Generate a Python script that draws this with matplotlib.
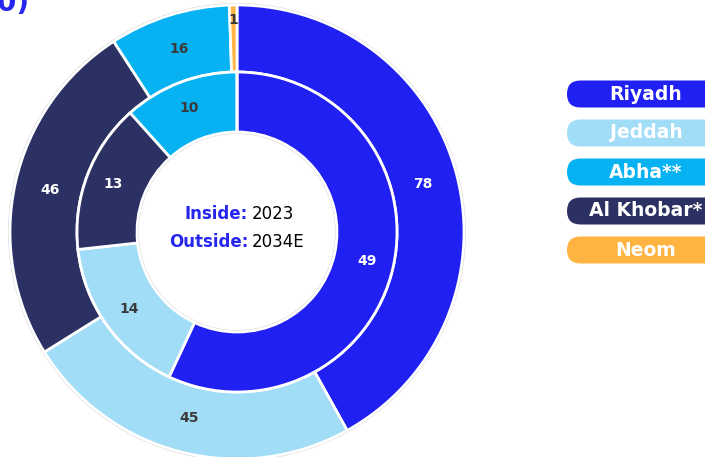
import numpy as np
import matplotlib.pyplot as plt
from matplotlib.patches import FancyBboxPatch, Circle

cities = ["Riyadh", "Jeddah", "Al Khobar*", "Abha**", "Neom"]
outside_2034 = [78, 45, 46, 16, 1]
inside_2023 = [49, 14, 13, 10, 0]
legend_order = ["Riyadh", "Jeddah", "Abha**", "Al Khobar*", "Neom"]

colors = {
    "Riyadh": "#2020F2",
    "Jeddah": "#A2DDF8",
    "Abha**": "#06B2F2",
    "Al Khobar*": "#2C3163",
    "Neom": "#FFB341",
}
dark_text = {"Riyadh": False, "Jeddah": True, "Abha**": True,
             "Al Khobar*": False, "Neom": True}

plt.rcParams["font.family"] = ["DejaVu Sans"]

fig = plt.figure(figsize=(7.05, 4.57), dpi=100)
ax = fig.add_axes([0, 0, 1, 1])

cx, cy = 237, 225
r_out, r_mid, r_hole = 227, 160, 100

# light halo round the rings
ax.add_patch(Circle((cx, cy), r_out + 1, facecolor="none", edgecolor="#d4d4d4", lw=1.2))
ax.add_patch(Circle((cx, cy), r_hole - 1, facecolor="none", edgecolor="#d4d4d4", lw=1.2))

fc = [colors[c] for c in cities]
outer, _ = ax.pie(outside_2034, radius=r_out, center=(cx, cy), startangle=90,
                  counterclock=False, colors=fc,
                  wedgeprops=dict(width=r_out - r_mid, edgecolor="white", linewidth=2))
inner, _ = ax.pie(inside_2023, radius=r_mid, center=(cx, cy), startangle=90,
                  counterclock=False, colors=fc,
                  wedgeprops=dict(width=r_mid - r_hole, edgecolor="white", linewidth=2))


def put_labels(wedges, values, radius):
    for w, v, c in zip(wedges, values, cities):
        if v == 0:
            continue
        th = np.deg2rad((w.theta1 + w.theta2) / 2)
        rr = radius + (20 if c == "Neom" else 0)
        ax.text(cx + rr * np.cos(th), cy + rr * np.sin(th), str(v),
                ha="center", va="center", fontsize=10, fontweight="bold",
                color="#3b3b3b" if dark_text[c] else "white")


put_labels(outer, outside_2034, 192)
put_labels(inner, inside_2023, 133)

# centre caption
blue = "#2626EE"
ax.text(248, 457 - 214, "Inside:", ha="right", va="center", fontsize=12,
        fontweight="bold", color=blue)
ax.text(252, 457 - 214, "2023", ha="left", va="center", fontsize=12, color="black")
ax.text(248, 457 - 242, "Outside:", ha="right", va="center", fontsize=12,
        fontweight="bold", color=blue)
ax.text(252, 457 - 242, "2034E", ha="left", va="center", fontsize=12, color="black")

# title, mostly off the top of the canvas
ax.text(29, 457 - 11, "(in '000)", ha="right", va="baseline", fontsize=20,
        fontweight="bold", color=blue)

# pill legend
for i, name in enumerate(legend_order):
    yc = 457 - (94 + 39 * i)
    pill = FancyBboxPatch((567, yc - 13.5), 200, 27,
                          boxstyle="round,pad=0,rounding_size=13.5",
                          facecolor=colors[name], edgecolor="none")
    ax.add_patch(pill)
    ax.text(646, yc, name, ha="center", va="center", fontsize=13.5,
            fontweight="bold", color="white")

ax.set_xlim(0, 705)
ax.set_ylim(0, 457)
ax.set_aspect("equal")
ax.axis("off")

fig.savefig("out.png", dpi=100)
